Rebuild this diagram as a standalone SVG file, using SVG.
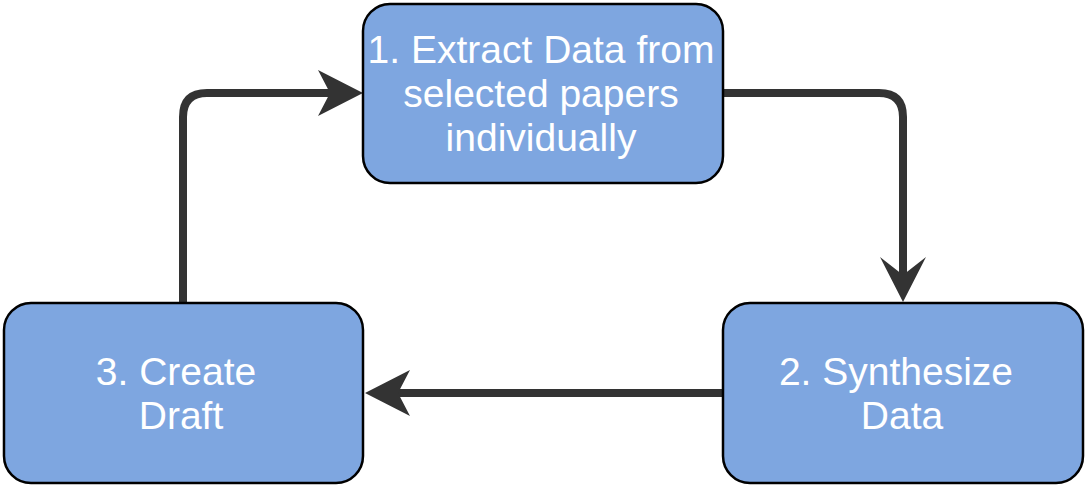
<svg xmlns="http://www.w3.org/2000/svg" width="1087" height="487" viewBox="0 0 1087 487">
<style>
.box{fill:#7EA6E0;stroke:#000;stroke-width:2.5}
.lbl{fill:#fff;font-family:"Liberation Sans",Arial,sans-serif;font-size:39px;text-anchor:middle}
.edge{fill:none;stroke:#333;stroke-width:8}
.head{fill:#333;stroke:none}
</style>
<rect width="1087" height="487" fill="#fff"/>
<g id="connectors">
<path class="edge" d="M723 93 H879 Q903 93 903 117 V280"/>
<path class="head" d="M903 302 L880 257 L903 275 L926 257 Z"/>
<path class="edge" d="M723 393 H395"/>
<path class="head" d="M365 393 L410 370 L398 393 L410 416 Z"/>
<path class="edge" d="M183 303 V117 Q183 93 207 93 H335"/>
<path class="head" d="M363 93 L318 70 L330 93 L318 116 Z"/>
</g>
<g id="node1">
<rect class="box" x="363" y="4" width="360" height="179" rx="27"/>
<text class="lbl" x="541" y="63">1. Extract Data from</text>
<text class="lbl" x="541" y="107">selected papers</text>
<text class="lbl" x="541" y="151">individually</text>
</g>
<g id="node2">
<rect class="box" x="723" y="303" width="360" height="180" rx="27"/>
<text class="lbl" x="896" y="385">2. Synthesize</text>
<text class="lbl" x="902" y="429">Data</text>
</g>
<g id="node3">
<rect class="box" x="4" y="303" width="359" height="180" rx="27"/>
<text class="lbl" x="176" y="385">3. Create</text>
<text class="lbl" x="181" y="429">Draft</text>
</g>
</svg>
